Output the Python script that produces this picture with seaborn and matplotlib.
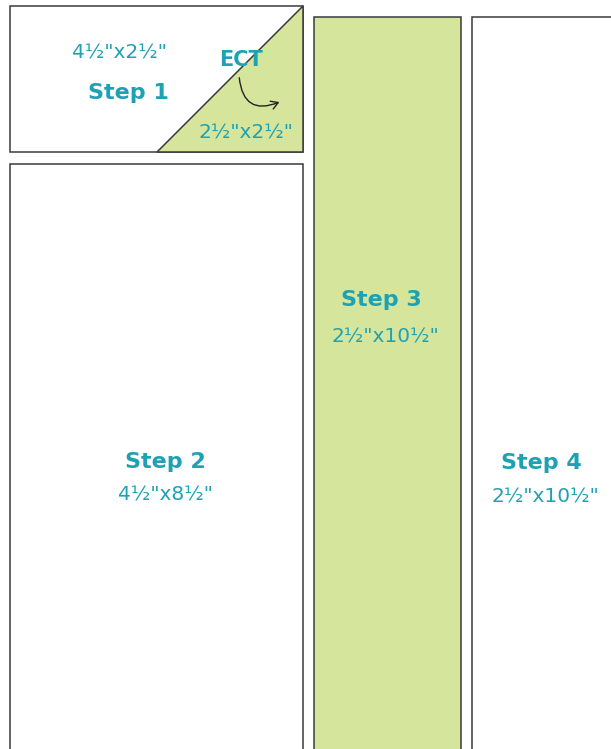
import matplotlib
matplotlib.use("Agg")
import matplotlib.pyplot as plt
import seaborn as sns
from matplotlib.patches import Rectangle, Polygon, FancyArrowPatch

sns.set_theme(style="white")
plt.rcParams['font.family'] = ['DejaVu Sans']

# Data
steps = ["Step 1", "Step 2", "Step 3", "Step 4"]
sizes = ["4\u00bd\"x2\u00bd\"", "4\u00bd\"x8\u00bd\"", "2\u00bd\"x10\u00bd\"", "2\u00bd\"x10\u00bd\""]
corner_label = "ECT"
corner_size = "2\u00bd\"x2\u00bd\""

# Layout (pixel space)
rects = [(10, 6, 293, 146), (10, 164, 293, 700), (314, 17, 147, 800), (472, 17, 200, 800)]
fills = ["white", "white", "#d5e59c", "white"]
step_pos = [(128, 93), (165, 462), (381, 300), (541, 463)]
size_pos = [(119, 53), (165, 495), (385, 337), (545, 497)]

GREEN = "#d5e59c"
TEAL = "#1ea2b3"
EDGE = "#3a3a3a"

fig = plt.figure(figsize=(6.11, 7.49), dpi=100)
ax = fig.add_axes([0, 0, 1, 1])
ax.set_xlim(0, 611)
ax.set_ylim(749, 0)
ax.axis("off")

for (x, y, w, h), fc in zip(rects, fills):
    ax.add_patch(Rectangle((x, y), w, h, facecolor=fc, edgecolor=EDGE, lw=1.1, zorder=1))

# corner triangle of step 1
ax.add_patch(Polygon([(157, 152), (303, 6), (303, 152)], closed=True,
                     facecolor=GREEN, edgecolor=EDGE, lw=1.1, zorder=2))

for s, (x, y) in zip(steps, step_pos):
    ax.text(x, y, s, color=TEAL, fontsize=16, fontweight="bold", ha="center", va="center", zorder=5)
for s, (x, y) in zip(sizes, size_pos):
    ax.text(x, y, s, color=TEAL, fontsize=14.5, ha="center", va="center", zorder=5)

ax.text(241, 60, corner_label, color=TEAL, fontsize=15, fontweight="bold", ha="center", va="center", zorder=5)
ax.text(246, 133, corner_size, color=TEAL, fontsize=14.5, ha="center", va="center", zorder=5)

arrow = FancyArrowPatch((239, 75), (282, 101), connectionstyle="arc3,rad=0.7",
                        arrowstyle="->,head_length=5,head_width=3", color="#222222",
                        lw=1.0, mutation_scale=1, zorder=6)
ax.add_patch(arrow)

fig.savefig("out.png", dpi=100)
